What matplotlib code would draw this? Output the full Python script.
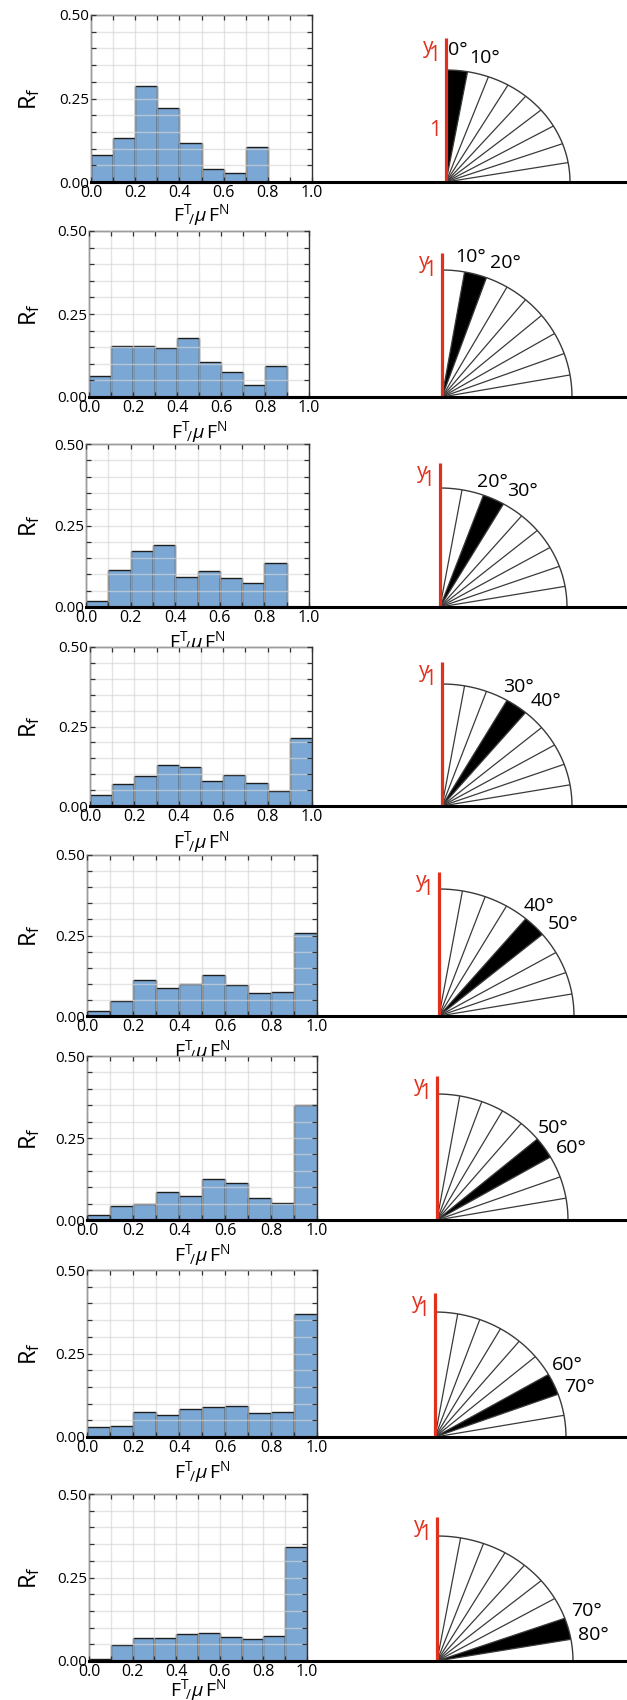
import numpy as np
import matplotlib
matplotlib.use("Agg")
import matplotlib.pyplot as plt
from matplotlib.lines import Line2D
from matplotlib.ticker import MultipleLocator, FixedLocator

plt.rcParams["font.family"] = ["Open Sans", "DejaVu Sans"]
plt.rcParams["mathtext.fontset"] = "custom"
plt.rcParams["mathtext.rm"] = "Open Sans"
plt.rcParams["mathtext.it"] = "Open Sans:italic"
plt.rcParams["mathtext.bf"] = "Open Sans:bold"

# ---- data -------------------------------------------------------------
bin_edges = [0.0, 0.1, 0.2, 0.3, 0.4, 0.5, 0.6, 0.7, 0.8, 0.9, 1.0]

rf_00_10 = [0.080, 0.133, 0.287, 0.223, 0.118, 0.040, 0.027, 0.106, 0.000, 0.000]
rf_10_20 = [0.062, 0.154, 0.153, 0.147, 0.178, 0.105, 0.074, 0.036, 0.093, 0.000]
rf_20_30 = [0.017, 0.113, 0.173, 0.191, 0.092, 0.110, 0.088, 0.073, 0.135, 0.000]
rf_30_40 = [0.036, 0.070, 0.095, 0.128, 0.123, 0.078, 0.097, 0.072, 0.047, 0.215]
rf_40_50 = [0.015, 0.046, 0.111, 0.087, 0.099, 0.126, 0.095, 0.070, 0.075, 0.258]
rf_50_60 = [0.014, 0.044, 0.048, 0.086, 0.073, 0.124, 0.113, 0.068, 0.051, 0.351]
rf_60_70 = [0.029, 0.033, 0.076, 0.066, 0.084, 0.091, 0.092, 0.072, 0.076, 0.369]
rf_70_80 = [0.005, 0.048, 0.070, 0.068, 0.082, 0.084, 0.072, 0.065, 0.075, 0.341]
rf_panels = [rf_00_10, rf_10_20, rf_20_30, rf_30_40,
             rf_40_50, rf_50_60, rf_60_70, rf_70_80]

sector_start_deg = [0, 10, 20, 30, 40, 50, 60, 70]   # angle from the y1 axis
sector_width_deg = 10
fan_step_deg = 10

x_major = [0.0, 0.2, 0.4, 0.6, 0.8, 1.0]
x_tick_labels = ["0.0", "0.2", "0.4", "0.6", "0.8", "1.0"]
y_major = [0.0, 0.25, 0.5]
y_tick_labels = ["0.00", "0.25", "0.50"]

# ---- layout (pixels, origin at top-left) ------------------------------
W, H = 627, 1700
hist_box = [  # left, right, top, bottom
    (91, 312, 15, 182),
    (89, 309, 231, 397),
    (86, 309, 444, 607),
    (90, 312, 647, 806),
    (87, 317, 855, 1016),
    (87, 317, 1056, 1220),
    (87, 317, 1270, 1437),
    (89, 307, 1494, 1661),
]
fan_geom = [  # origin x, radius x, radius y
    (446, 124, 112),
    (442, 130, 127),
    (440, 127, 119),
    (442, 130, 122),
    (439, 135, 127),
    (437, 131, 126),
    (435, 131, 125),
    (437, 136, 125),
]
red_len_px = 144
xlabel_gap = [22, 24, 24, 25, 24, 24, 24, 18]

bar_face = "#7ba7d4"
bar_edge = "#1e1e1e"
grid_col = "#d6d6d6"
fan_col = "#3a3a3a"
red = "#e0301e"

fig = plt.figure(figsize=(W / 100, H / 100), dpi=100)


def px_rect(left, top, width, height):
    return [left / W, 1 - (top + height) / H, width / W, height / H]


xlabel_txt = r"$\mathrm{F}^{\mathrm{T}}\!{}_{/}\mu\,\mathrm{F}^{\mathrm{N}}$"

for i, vals in enumerate(rf_panels):
    l, r, t, b = hist_box[i]
    ax = fig.add_axes(px_rect(l, t, r - l, b - t))
    ax.bar(bin_edges[:-1], vals, width=0.1, align="edge",
           color=bar_face, edgecolor=bar_edge, linewidth=1.0, zorder=1)
    ax.set_xlim(0, 1)
    ax.set_ylim(0, 0.5)
    ax.xaxis.set_major_locator(FixedLocator(x_major))
    ax.set_xticklabels(x_tick_labels)
    ax.xaxis.set_minor_locator(MultipleLocator(0.1))
    ax.yaxis.set_major_locator(FixedLocator(y_major))
    ax.set_yticklabels(y_tick_labels)
    ax.yaxis.set_minor_locator(MultipleLocator(0.05))
    ax.grid(which="both", color=grid_col, linewidth=1.0, alpha=0.65, zorder=2)
    ax.set_axisbelow(False)
    ax.tick_params(which="both", direction="in", top=True, right=True,
                   length=3.5, width=0.9, color="#333333")
    ax.tick_params(axis="x", labelsize=11.5, pad=2)
    ax.tick_params(axis="y", labelsize=11, pad=1.5)
    for side in ("left", "right", "top"):
        ax.spines[side].set_color("#333333")
        ax.spines[side].set_linewidth(1.0)
    ax.spines["bottom"].set_linewidth(2.2)
    ax.spines["bottom"].set_color("black")
    ax.spines["bottom"].set_zorder(5)

    ax.set_ylabel(r"R$_{\mathrm{f}}$", fontsize=17)
    ax.yaxis.set_label_coords((42 - l) / (r - l), 0.5)
    ax.set_xlabel(xlabel_txt, fontsize=14, va="top")
    ax.xaxis.set_label_coords(0.5, -(xlabel_gap[i] - 2) / (b - t))

    # baseline continuing under the fan
    yb = 1 - b / H
    fig.add_artist(Line2D([l / W, 1.0], [yb, yb], transform=fig.transFigure,
                          color="black", linewidth=2.2, solid_capstyle="butt"))

    # ---- fan of 10-degree sectors measured from y1 ----------------------
    ox, rx, ry = fan_geom[i]
    x0, x1, y0, y1 = -0.7, 1.45, -0.15, 1.45
    fax = fig.add_axes(px_rect(ox + x0 * rx, b - y1 * ry,
                               (x1 - x0) * rx, (y1 - y0) * ry))
    fax.set_xlim(x0, x1)
    fax.set_ylim(y0, y1)
    fax.axis("off")

    a0 = sector_start_deg[i]
    a1 = a0 + sector_width_deg
    th = np.radians(np.linspace(a0, a1, 40))
    fax.fill(np.r_[0, np.sin(th)], np.r_[0, np.cos(th)],
             color="black", linewidth=0, zorder=2)

    for a in range(0, 91, fan_step_deg):
        ra = np.radians(a)
        fax.plot([0, np.sin(ra)], [0, np.cos(ra)], color=fan_col,
                 linewidth=0.9, zorder=3, solid_capstyle="butt")
    tq = np.radians(np.linspace(0, 90, 200))
    fax.plot(np.sin(tq), np.cos(tq), color=fan_col, linewidth=1.0, zorder=3)

    # y1 axis in red
    red_top = red_len_px / ry
    fax.plot([0, 0], [0, red_top], color=red, linewidth=2.3, zorder=4,
             solid_capstyle="butt")
    fax.annotate("y", (0, red_top), xytext=(-13, 1), textcoords="offset pixels",
                 color=red, fontsize=15, ha="right", va="top", zorder=5)
    fax.annotate("1", (0, red_top), xytext=(-6, -7), textcoords="offset pixels",
                 color=red, fontsize=15, ha="right", va="top", zorder=5)
    if i == 0:
        fax.annotate("1", (0, 52 / ry), xytext=(-5, 0),
                     textcoords="offset pixels", color=red, fontsize=15,
                     ha="right", va="center", zorder=5)

    # angle labels at the two edges of the highlighted sector
    r0, r1 = np.radians(a0), np.radians(a1)
    fax.text(max(np.sin(r0) - 0.09 + 0.0019 * a0, 0.02),
             1.09 * np.cos(r0) + 0.03 + (0.06 if a0 == 0 else 0),
             f"{a0}\u00b0", fontsize=14, ha="left", va="center",
             color="black", zorder=5)
    fax.text(1.04 * np.sin(r1) + 0.01, 1.1 * np.cos(r1) + 0.02,
             f"{a1}\u00b0", fontsize=14, ha="left", va="center",
             color="black", zorder=5)

fig.savefig("out.png", dpi=100)
